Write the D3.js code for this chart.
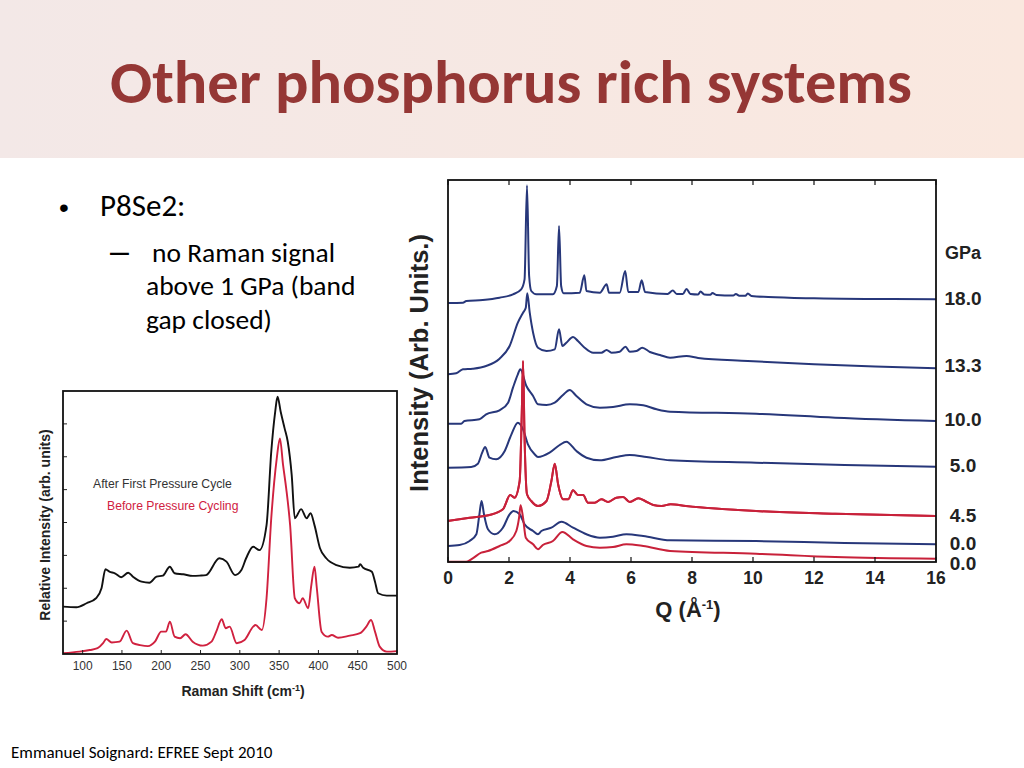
<!DOCTYPE html>
<html><head><meta charset="utf-8">
<script src="https://cdn.jsdelivr.net/npm/d3@7"></script>
<style>html,body{margin:0;padding:0;background:#fff;}svg{display:block;}</style>
</head><body>
<svg id="c" width="1024" height="768"></svg>
<script>
// ---------- DATA ----------
const slideTitle = "Other phosphorus rich systems";
const bulletMain = "P8Se2:";
const bulletSubLines = ["no Raman signal", "above 1 GPa (band", "gap closed)"];
const footer = "Emmanuel Soignard: EFREE Sept 2010";

// Left chart: Raman spectra [Raman shift cm-1, relative intensity]
const ramanTicks = [100,150,200,250,300,350,400,450,500];
const ramanAfter = [[75,18.0],[92,17.8],[105,19.3],[117,21.2],[124,25.0],[129,32.2],[134,31.3],[141,30.7],[149,29.2],[158,30.9],[164,29.4],[175,27.5],[185,27.1],[194,29.4],[202,29.8],[211,33.2],[217,30.7],[228,30.3],[240,29.7],[249,29.8],[257,30.0],[274,36.4],[283,35.1],[294,30.0],[302,31.9],[308,36.4],[317,40.8],[325,39.5],[334,49.0],[340,76.9],[345,92.1],[348,97.8],[352,92.1],[357,85.8],[361,80.7],[366,68.1],[370,51.6],[378,55.1],[385,51.6],[390,53.5],[395,49.0],[402,40.2],[410,36.4],[423,33.8],[440,32.8],[451,33.2],[453,34.1],[457,32.8],[468,31.3],[472,27.5],[476,23.1],[487,22.2],[500,22.2]];
const ramanBefore = [[75,0.3],[96,0.9],[109,1.5],[119,2.2],[126,4.1],[130,5.7],[137,4.4],[147,4.7],[156,8.9],[164,4.1],[173,3.4],[183,3.0],[192,4.7],[200,8.5],[206,8.5],[211,12.3],[217,6.6],[224,6.0],[231,7.5],[240,4.7],[253,3.2],[264,4.7],[270,8.5],[277,13.2],[282,9.8],[287,10.4],[296,4.1],[306,5.3],[317,10.4],[320,11.0],[328,9.1],[334,21.2],[340,51.6],[347,74.4],[351,82.0],[355,71.9],[359,63.0],[364,49.0],[370,21.2],[376,19.3],[380,21.2],[387,17.4],[391,26.2],[395,33.2],[398,25.0],[404,8.5],[412,6.6],[417,7.2],[425,6.2],[440,7.0],[453,7.9],[461,10.4],[467,12.9],[472,8.5],[478,2.8],[487,0.9],[500,1.1]];
const ramanLegend = ["After First Pressure Cycle", "Before Pressure Cycling"];

// Right chart: diffraction patterns [Q (Å-1), intensity incl. stacking offset]
const qTicks = [0,2,4,6,8,10,12,14,16];
const pressures = ["18.0","13.3","10.0","5.0","4.5","0.0","0.0"];
const seriesColor = ["blue","blue","blue","blue","red","blue","red"];
const s18_0 = [[0,259],[0.49,259.3],[0.6,261],[1.14,262],[1.69,264.3],[2.13,267.7],[2.4,272.7],[2.51,282.7],[2.59,376.7],[2.66,286],[2.73,271],[2.9,267.7],[3.44,267.7],[3.57,276],[3.64,336],[3.71,276],[3.79,268.7],[4.32,269.3],[4.47,286.7],[4.54,271],[4.98,269.3],[5.2,277.7],[5.28,269.3],[5.63,269.3],[5.81,291],[5.91,270],[6.24,270],[6.35,281.7],[6.46,270],[7.2,268],[7.37,271.5],[7.5,268],[7.7,268],[7.82,273],[7.95,268],[8.2,267.5],[8.28,270.5],[8.4,267.5],[8.6,267.3],[8.67,269],[8.8,267],[9.35,266.5],[9.44,268],[9.55,266.3],[9.75,266.3],[9.83,268.5],[9.95,266],[10.5,265],[12,263.7],[14,263],[16,262.7]];
const s13_3 = [[0,187.7],[0.27,188.7],[0.49,192.7],[0.81,193.3],[1.25,196],[1.69,203.3],[2.02,216],[2.29,239.3],[2.46,249.3],[2.55,254.3],[2.6,268.7],[2.68,249.3],[2.79,229.3],[2.95,214.3],[3.23,211],[3.5,212.7],[3.64,232.7],[3.75,216],[3.88,219.3],[4.1,225],[4.26,221],[4.48,214.3],[4.76,209.3],[5.03,209.3],[5.2,212],[5.36,209.3],[5.63,210.3],[5.82,215.3],[5.96,210.3],[6.18,211],[6.37,214.3],[6.62,210],[6.95,207],[7.28,204.3],[7.82,206],[8.2,204],[9.83,201],[12,197.7],[14,195.5],[16,193.7]];
const s10_0 = [[0,138.3],[0.43,138.3],[0.54,141],[1.03,142.7],[1.25,147.7],[1.69,151.7],[1.97,159.3],[2.13,174.3],[2.29,187.7],[2.37,192.7],[2.57,176],[2.79,166],[2.95,157.7],[3.23,157],[3.5,159.3],[3.77,167],[3.99,172],[4.21,166],[4.54,157.7],[4.98,154.3],[5.41,155],[5.96,157.7],[6.4,156.7],[6.84,152.7],[7.28,150.3],[10.1,148.3],[12.7,144.3],[16,141]];
const s5_0 = [[0,94.3],[0.76,95],[0.98,98.3],[1.12,109.3],[1.22,115],[1.36,104.3],[1.58,102.7],[1.86,111],[2.08,127.7],[2.29,139.3],[2.46,132.7],[2.62,117.7],[2.84,107.7],[2.95,105],[3.33,109.3],[3.66,117],[3.88,120.3],[4.21,111],[4.54,104.3],[4.98,101.7],[5.52,105],[5.96,107],[6.51,105],[7.28,101.7],[10.1,99.3],[13,97],[16,95.3]];
const s4_5 = [[0,41],[0.71,44.3],[1.36,47],[1.8,52.7],[2.04,67],[2.18,64.3],[2.35,81],[2.42,150],[2.46,201],[2.51,124.3],[2.59,67.7],[2.73,61],[2.95,56],[3.23,61],[3.39,81],[3.5,98.3],[3.61,77.7],[3.77,62.7],[3.94,62.7],[4.1,71.7],[4.26,67],[4.43,67],[4.59,59.3],[4.81,59.3],[5.03,62.7],[5.25,60],[5.52,64.3],[5.74,65],[5.96,60],[6.24,63.7],[6.46,61],[6.73,57],[7.0,56],[7.3,57.7],[7.8,56],[10.1,51],[12.7,48.3],[16,46]];
const s0_0b = [[0,16],[0.38,17],[0.71,21],[0.93,27.7],[1.03,47.7],[1.1,61],[1.18,47.7],[1.31,32.7],[1.53,27.7],[1.8,34.3],[2.02,47.7],[2.15,51],[2.35,47.7],[2.51,37.7],[2.79,31],[2.95,27.7],[3.06,31],[3.39,34.3],[3.72,40.3],[4.1,34.3],[4.54,27.7],[4.98,24.3],[5.41,25.3],[5.85,27.7],[6.4,26],[7.28,21.7],[10.1,21],[13,19],[16,17.7]];
const s0_0r = [[0,0.3],[0.6,0.3],[0.81,3.7],[1.09,9.3],[1.31,11],[1.69,16],[2.02,21],[2.24,31],[2.33,44.3],[2.38,56.7],[2.46,44.3],[2.55,24.3],[2.79,17.7],[2.95,12.7],[3.11,17],[3.44,21],[3.75,30],[4.1,22.7],[4.54,16],[4.98,14.3],[5.41,15],[5.85,17.7],[6.4,16],[7.28,11],[10.1,8.3],[12.7,5],[16,3.3]];
const diffSeries = [s18_0, s13_3, s10_0, s5_0, s4_5, s0_0b, s0_0r];
// intensity level at which each pressure label sits
const labelLevels = [264, 197, 143, 97, 47, 19, -1];
const unitLevel = 310;

// ---------- DRAW ----------
const svg = d3.select("#c");
const BLUE = "#27377a", RED = "#c8213a";
const ARIAL = "Arial, 'Liberation Sans', sans-serif";

// header band
const defs = svg.append("defs");
const g = defs.append("linearGradient").attr("id","hdr").attr("x1","0").attr("x2","1").attr("y1","0").attr("y2","0");
g.append("stop").attr("offset","0").attr("stop-color","#f3e8e7");
g.append("stop").attr("offset","1").attr("stop-color","#fae8df");
svg.append("rect").attr("x",0).attr("y",0).attr("width",1024).attr("height",158).attr("fill","url(#hdr)");
svg.append("text").attr("x",511).attr("y",103).attr("text-anchor","middle")
  .attr("font-family","Carlito, Calibri, 'Open Sans', sans-serif").attr("font-weight","bold")
  .attr("font-size",60).attr("fill","#953735")
  .attr("textLength",802).attr("lengthAdjust","spacingAndGlyphs").text(slideTitle);

// bullets
const bodyFont = "Carlito, Calibri, Lato, sans-serif";
svg.append("text").attr("x",59).attr("y",217).attr("font-family",ARIAL).attr("font-size",28).text("\u2022");
svg.append("text").attr("x",100).attr("y",216).attr("font-family",bodyFont).attr("font-size",31).attr("fill","#000").text(bulletMain);
svg.append("text").attr("x",110).attr("y",262).attr("font-family",ARIAL).attr("font-size",34).text("\u2013");
const subX = [152,146,146];
bulletSubLines.forEach((t,i)=>{
  svg.append("text").attr("x",subX[i]).attr("y",262+i*33.3).attr("font-family",bodyFont).attr("font-size",27.5).text(t);
});
svg.append("text").attr("x",11).attr("y",758).attr("font-family",bodyFont).attr("font-size",17).text(footer);

// ---------- LEFT CHART ----------
const lx = d3.scaleLinear().domain([75,500]).range([63,397]);
const ly = d3.scaleLinear().domain([0,100]).range([654,391]);
const L = svg.append("g");
const lline = d3.line().x(d=>lx(d[0])).y(d=>ly(d[1])).curve(d3.curveMonotoneX);
L.append("path").attr("d",lline(ramanBefore)).attr("fill","none").attr("stroke","#d0213f").attr("stroke-width",1.9);
L.append("path").attr("d",lline(ramanAfter)).attr("fill","none").attr("stroke","#111").attr("stroke-width",1.9);
ramanTicks.forEach(t=>{
  L.append("line").attr("x1",lx(t)).attr("x2",lx(t)).attr("y1",654).attr("y2",650).attr("stroke","#222").attr("stroke-width",1);
  L.append("text").attr("x",lx(t)).attr("y",669.5).attr("text-anchor","middle")
    .attr("font-family",ARIAL).attr("font-size",12).attr("fill","#333").text(t);
});
d3.range(12.5,100,12.5).forEach(v=>{
  L.append("line").attr("x1",63).attr("x2",67).attr("y1",ly(v)).attr("y2",ly(v)).attr("stroke","#222").attr("stroke-width",1);
});
L.append("rect").attr("x",63).attr("y",391).attr("width",334).attr("height",263).attr("fill","none").attr("stroke","#111").attr("stroke-width",1.8);
L.append("text").attr("x",93).attr("y",488).attr("font-family",ARIAL).attr("font-size",12.2).attr("fill","#333").text(ramanLegend[0]);
L.append("text").attr("x",107).attr("y",510).attr("font-family",ARIAL).attr("font-size",12.2).attr("fill","#d0213f").text(ramanLegend[1]);
const lxl = L.append("text").attr("x",243).attr("y",696).attr("text-anchor","middle")
  .attr("font-family",ARIAL).attr("font-weight","bold").attr("font-size",14).attr("fill","#222");
lxl.append("tspan").text("Raman Shift (cm");
lxl.append("tspan").attr("dy",-5).attr("font-size",9).text("-1");
lxl.append("tspan").attr("dy",5).text(")");
L.append("text").attr("transform","translate(50,525) rotate(-90)").attr("text-anchor","middle")
  .attr("font-family",ARIAL).attr("font-weight","bold").attr("font-size",14).attr("fill","#222")
  .text("Relative Intensity (arb. units)");

// ---------- RIGHT CHART ----------
const rx = d3.scaleLinear().domain([0,16]).range([448,936]);
const ry = d3.scaleLinear().domain([0,382]).range([562,180]);
const R = svg.append("g");
const rline = d3.line().x(d=>rx(d[0])).y(d=>ry(d[1])).curve(d3.curveMonotoneX);
diffSeries.forEach((s,i)=>{
  R.append("path").attr("d",rline(s)).attr("fill","none")
    .attr("stroke", seriesColor[i]==="red"?RED:BLUE).attr("stroke-width",2);
});
R.append("path").attr("d",rline(s4_5)).attr("fill","none").attr("stroke",RED).attr("stroke-width",2);
qTicks.forEach(t=>{
  R.append("line").attr("x1",rx(t)).attr("x2",rx(t)).attr("y1",562).attr("y2",557).attr("stroke","#111").attr("stroke-width",1.2);
  R.append("line").attr("x1",rx(t)).attr("x2",rx(t)).attr("y1",180).attr("y2",185).attr("stroke","#111").attr("stroke-width",1.2);
  R.append("text").attr("x",rx(t)).attr("y",584).attr("text-anchor","middle")
    .attr("font-family",ARIAL).attr("font-weight","bold").attr("font-size",17.5).attr("fill","#222").text(t);
});
R.append("rect").attr("x",448).attr("y",180).attr("width",488).attr("height",382).attr("fill","none").attr("stroke","#111").attr("stroke-width",1.8);
const qx = R.append("text").attr("x",688).attr("y",617).attr("text-anchor","middle")
  .attr("font-family",ARIAL).attr("font-weight","bold").attr("font-size",22).attr("fill","#222");
qx.append("tspan").text("Q (\u00c5");
qx.append("tspan").attr("dy",-8).attr("font-size",13).text("-1");
qx.append("tspan").attr("dy",8).text(")");
R.append("text").attr("transform","translate(428,363) rotate(-90)").attr("text-anchor","middle")
  .attr("font-family",ARIAL).attr("font-weight","bold").attr("font-size",25.5).attr("fill","#222")
  .text("Intensity (Arb. Units.)");
R.append("text").attr("x",963).attr("y",ry(unitLevel)+6.5).attr("text-anchor","middle")
  .attr("font-family",ARIAL).attr("font-weight","bold").attr("font-size",18).attr("fill","#222").text("GPa");
pressures.forEach((p,i)=>{
  R.append("text").attr("x",963).attr("y",ry(labelLevels[i])+6.8).attr("text-anchor","middle")
    .attr("font-family",ARIAL).attr("font-weight","bold").attr("font-size",19).attr("fill","#222").text(p);
});
</script>
</body></html>
